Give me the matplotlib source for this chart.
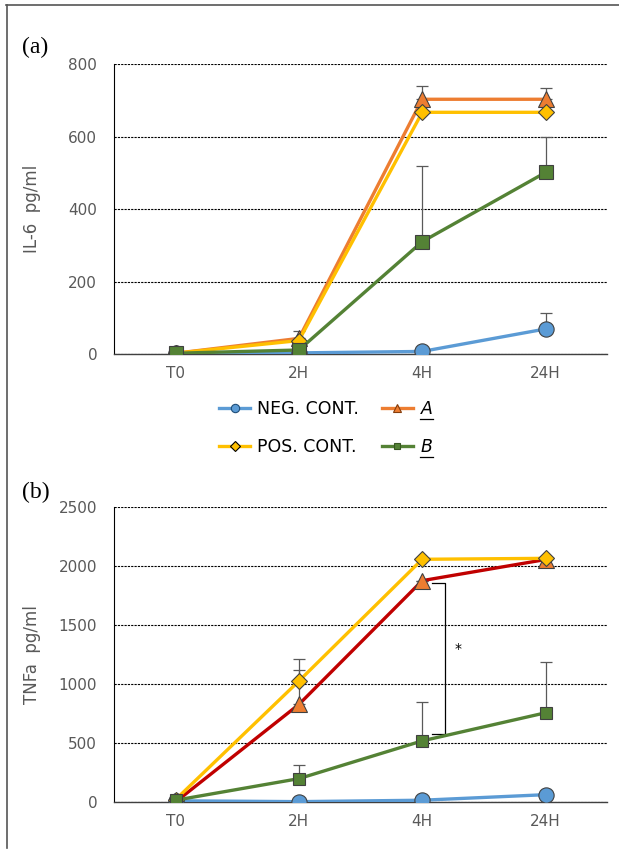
import matplotlib.pyplot as plt
from matplotlib.lines import Line2D

times = ['T0', '2H', '4H', '24H']

# (a) IL-6
il6_neg = [2, 3, 7, 69]
il6_neg_err = [0, 0, 0, 43]
il6_a = [2, 43, 703, 703]
il6_a_err = [0, 21, 37, 32]
il6_pos = [2, 37, 667, 667]
il6_pos_err = [0, 0, 0, 0]
il6_b = [2, 11, 310, 501]
il6_b_err = [0, 0, 209, 97]

# (b) TNFa
tnf_neg = [10, 3, 15, 62]
tnf_neg_err = [0, 0, 0, 0]
tnf_a = [0, 827, 1876, 2055]
tnf_a_err = [0, 290, 0, 0]
tnf_pos = [20, 1025, 2057, 2065]
tnf_pos_err = [0, 185, 0, 0]
tnf_b = [15, 198, 518, 756]
tnf_b_err = [0, 113, 332, 432]

blue = '#5B9BD5'
orange = '#ED7D31'
red = '#C00000'
yellow = '#FFC000'
green = '#548235'
gray = '#595959'

fig = plt.figure(figsize=(6.19, 8.55), dpi=100)
ax1 = fig.add_axes([0.184, 0.586, 0.797, 0.339])
ax2 = fig.add_axes([0.184, 0.062, 0.797, 0.345])


def series(ax, y, err, line_c, mfc, marker, ms, label=None):
    x = range(len(y))
    ax.errorbar(x, y, yerr=[[0] * len(err), err], fmt='none', ecolor=gray,
                elinewidth=0.9, capsize=4, capthick=0.9, zorder=2)
    ax.plot(x, y, color=line_c, lw=2.4, marker=marker, ms=ms, mfc=mfc,
            mec='#404040', mew=0.8, label=label, zorder=3)


series(ax1, il6_neg, il6_neg_err, blue, blue, 'o', 11)
series(ax1, il6_a, il6_a_err, orange, orange, '^', 11)
series(ax1, il6_pos, il6_pos_err, yellow, yellow, 'D', 8.5)
series(ax1, il6_b, il6_b_err, green, green, 's', 10)

series(ax2, tnf_neg, tnf_neg_err, blue, blue, 'o', 11)
series(ax2, tnf_a, tnf_a_err, red, orange, '^', 11)
series(ax2, tnf_pos, tnf_pos_err, yellow, yellow, 'D', 8.5)
series(ax2, tnf_b, tnf_b_err, green, green, 's', 8)

for ax, top, step, lab in [(ax1, 800, 200, 'IL-6  pg/ml'), (ax2, 2500, 500, 'TNFa  pg/ml')]:
    ax.set_xlim(-0.5, 3.5)
    ax.set_ylim(0, top)
    ax.set_yticks(range(0, top + 1, step))
    ax.set_xticks(range(4))
    ax.set_xticklabels(times)
    ax.tick_params(length=0, labelsize=11, labelcolor=gray)
    ax.tick_params(axis='x', pad=9)
    ax.tick_params(axis='y', pad=12)
    ax.yaxis.grid(True, color='black', linestyle=(0, (2, 1)), lw=0.8)
    ax.set_axisbelow(True)
    for s in ['top', 'right']:
        ax.spines[s].set_visible(False)
    ax.spines['left'].set_color('black')
    ax.spines['left'].set_linewidth(0.8)
    ax.spines['bottom'].set_color('#404040')
    ax.spines['bottom'].set_linewidth(1.0)
    ax.set_ylabel(lab, fontsize=12, color=gray)
    ax.yaxis.set_label_coords(-0.148, 0.5)

# significance bracket in (b)
ax2.plot([2.08, 2.185, 2.185, 2.08], [1855, 1855, 572, 572], color='black', lw=0.9)
ax2.text(2.29, 1300, '*', fontsize=10, ha='center', va='center')

# legend
handles = [
    Line2D([], [], color=blue, lw=2.4, marker='o', ms=6, mfc=blue, mec='#1F4E79', mew=0.8),
    Line2D([], [], color=yellow, lw=2.4, marker='D', ms=5, mfc=yellow, mec='black', mew=0.8),
    Line2D([], [], color=orange, lw=2.4, marker='^', ms=6, mfc=orange, mec='#843C0C', mew=0.8),
    Line2D([], [], color=green, lw=2.4, marker='s', ms=5, mfc=green, mec='#385723', mew=0.8),
]
labels = ['NEG. CONT.', 'POS. CONT.', r'$\mathit{A}$', r'$\mathit{B}$']
leg = fig.legend(handles, labels, loc='center', bbox_to_anchor=(0.527, 0.4994), ncol=2,
                 frameon=False, fontsize=12.5, handlelength=1.8, columnspacing=1.3,
                 labelspacing=1.2, handletextpad=0.4)

# panel labels
fig.text(0.036, 0.944, '(a)', fontsize=17, family='Liberation Serif', va='center')
fig.text(0.036, 0.424, '(b)', fontsize=17, family='Liberation Serif', va='center')

# frame lines
fig.add_artist(Line2D([0.010, 1.0], [0.994, 0.994], color='#555555', lw=1.2))
fig.add_artist(Line2D([0.011, 0.011], [0.994, 0.008], color='#555555', lw=1.2))

# underline the A / B legend labels
fig.canvas.draw()
W, H = fig.bbox.width, fig.bbox.height
for t in leg.get_texts()[2:]:
    bb = t.get_window_extent()
    fig.add_artist(Line2D([bb.x0 / W, bb.x1 / W], [(bb.y0 - 1) / H] * 2,
                          color='black', lw=0.9))

fig.savefig('out.png', dpi=100)
